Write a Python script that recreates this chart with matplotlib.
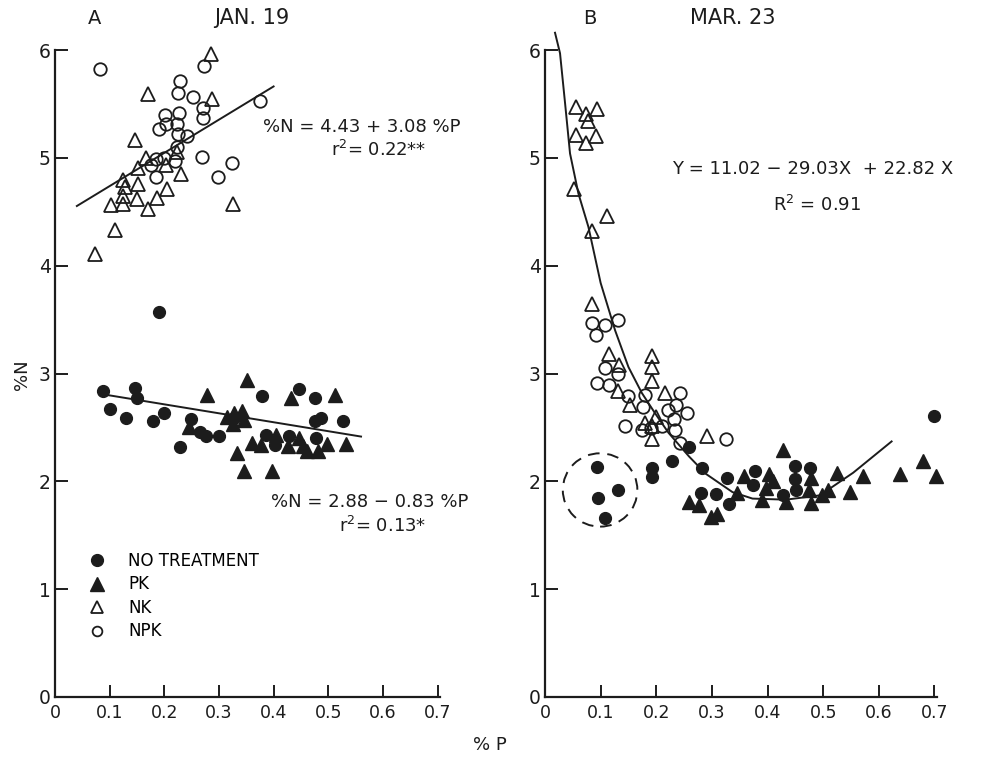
import matplotlib
matplotlib.use("Agg")
import matplotlib.pyplot as plt
from matplotlib.patches import Ellipse
import numpy as np

# ---- data ----
# panel A, Jan. 19
a_none_x = [0.19, 0.088, 0.147, 0.15, 0.10, 0.13, 0.18, 0.20, 0.248, 0.228, 0.266, 0.276, 0.30,
            0.379, 0.446, 0.475, 0.487, 0.475, 0.527, 0.386, 0.403, 0.429, 0.477, 0.328]
a_none_y = [3.57, 2.84, 2.87, 2.77, 2.67, 2.59, 2.56, 2.63, 2.58, 2.32, 2.46, 2.42, 2.42,
            2.79, 2.86, 2.77, 2.59, 2.56, 2.56, 2.43, 2.34, 2.42, 2.40, 2.59]
a_pk_x = [0.279, 0.352, 0.432, 0.512, 0.245, 0.315, 0.328, 0.343, 0.346, 0.325, 0.36, 0.377,
          0.404, 0.426, 0.447, 0.453, 0.461, 0.481, 0.497, 0.532, 0.333, 0.346, 0.397]
a_pk_y = [2.80, 2.94, 2.77, 2.80, 2.50, 2.60, 2.63, 2.65, 2.57, 2.53, 2.36, 2.34,
          2.43, 2.33, 2.40, 2.33, 2.28, 2.28, 2.35, 2.35, 2.26, 2.10, 2.10]
a_nk_x = [0.285, 0.17, 0.288, 0.147, 0.166, 0.152, 0.203, 0.223, 0.23, 0.125, 0.128, 0.152,
          0.125, 0.15, 0.103, 0.125, 0.187, 0.205, 0.171, 0.326, 0.109, 0.074]
a_nk_y = [5.96, 5.59, 5.55, 5.17, 5.00, 4.91, 4.93, 5.05, 4.85, 4.79, 4.73, 4.76,
          4.65, 4.62, 4.56, 4.57, 4.63, 4.71, 4.53, 4.57, 4.33, 4.11]
a_npk_x = [0.082, 0.273, 0.228, 0.225, 0.252, 0.271, 0.271, 0.375, 0.202, 0.226, 0.19, 0.204,
           0.223, 0.225, 0.242, 0.223, 0.184, 0.2, 0.176, 0.219, 0.269, 0.323, 0.299, 0.184]
a_npk_y = [5.82, 5.85, 5.71, 5.60, 5.56, 5.46, 5.37, 5.53, 5.40, 5.42, 5.27, 5.31,
           5.31, 5.22, 5.20, 5.10, 4.99, 5.00, 4.93, 4.97, 5.01, 4.95, 4.82, 4.82]

# regression lines in panel A (from the printed equations)
a_fit_hi = (4.43, 3.08, 0.04, 0.40)    # intercept, slope, x from, x to
a_fit_lo = (2.88, -0.83, 0.085, 0.56)

# panel B, Mar. 23
b_none_x = [0.259, 0.228, 0.193, 0.193, 0.282, 0.328, 0.280, 0.307, 0.331, 0.093, 0.132, 0.095,
            0.108, 0.699, 0.378, 0.373, 0.450, 0.476, 0.450, 0.451, 0.427]
b_none_y = [2.32, 2.19, 2.12, 2.04, 2.12, 2.03, 1.89, 1.88, 1.79, 2.13, 1.92, 1.85,
            1.66, 2.61, 2.10, 1.97, 2.14, 2.12, 2.02, 1.92, 1.87]
b_pk_x = [0.259, 0.277, 0.298, 0.31, 0.427, 0.358, 0.402, 0.397, 0.390, 0.346, 0.433, 0.479,
          0.474, 0.479, 0.497, 0.509, 0.524, 0.549, 0.572, 0.638, 0.679, 0.702, 0.410]
b_pk_y = [1.81, 1.78, 1.67, 1.70, 2.29, 2.05, 2.07, 1.94, 1.83, 1.89, 1.81, 2.03,
          1.92, 1.80, 1.87, 1.92, 2.08, 1.90, 2.05, 2.07, 2.19, 2.05, 2.00]
b_nk_x = [0.055, 0.073, 0.093, 0.078, 0.055, 0.091, 0.073, 0.052, 0.111, 0.084, 0.085, 0.115,
          0.133, 0.131, 0.153, 0.192, 0.192, 0.192, 0.215, 0.199, 0.179, 0.192, 0.192, 0.292]
b_nk_y = [5.47, 5.41, 5.45, 5.34, 5.21, 5.20, 5.14, 4.71, 4.46, 4.32, 3.64, 3.18,
          3.08, 2.84, 2.71, 3.16, 3.06, 2.93, 2.82, 2.60, 2.54, 2.51, 2.39, 2.42]
b_npk_x = [0.084, 0.107, 0.132, 0.091, 0.108, 0.132, 0.093, 0.115, 0.150, 0.180, 0.177, 0.242,
           0.235, 0.221, 0.256, 0.231, 0.143, 0.175, 0.210, 0.233, 0.242, 0.325, 0.191]
b_npk_y = [3.47, 3.45, 3.50, 3.36, 3.05, 3.00, 2.91, 2.89, 2.79, 2.80, 2.69, 2.82,
           2.71, 2.66, 2.63, 2.58, 2.51, 2.48, 2.51, 2.48, 2.36, 2.39, 2.49]

# fitted curve in panel B
b_curve_x = [0.018, 0.027, 0.036, 0.045, 0.060, 0.078, 0.100, 0.126, 0.150, 0.174, 0.198,
             0.222, 0.259, 0.289, 0.337, 0.373, 0.433, 0.494, 0.554, 0.623]
b_curve_y = [6.16, 5.97, 5.51, 5.04, 4.67, 4.36, 3.84, 3.40, 3.06, 2.82, 2.63,
             2.45, 2.23, 2.07, 1.90, 1.84, 1.83, 1.87, 2.08, 2.37]

xticks = [0, 0.1, 0.2, 0.3, 0.4, 0.5, 0.6, 0.7]
xticklabels = ["0", "0.1", "0.2", "0.3", "0.4", "0.5", "0.6", "0.7"]
yticks = [0, 1, 2, 3, 4, 5, 6]

ink = "#1c1c1c"
plt.rcParams['font.family'] = ['DejaVu Sans']

fig = plt.figure(figsize=(9.85, 7.6), dpi=100)
fig.patch.set_facecolor("white")

W, H = 985.0, 760.0
axA = fig.add_axes([55 / W, 63 / H, 388 / W, 647 / H])
axB = fig.add_axes([545 / W, 63 / H, 395 / W, 647 / H])


def style(ax):
    ax.set_xlim(0, 0.71)
    ax.set_ylim(0, 6.0)
    for s in ["top", "right"]:
        ax.spines[s].set_visible(False)
    for s in ["left", "bottom"]:
        ax.spines[s].set_linewidth(1.6)
        ax.spines[s].set_color(ink)
    ax.spines["bottom"].set_bounds(0, 0.705)
    ax.set_xticks(xticks)
    ax.set_xticklabels(xticklabels, fontsize=12.5, color=ink)
    ax.set_yticks(yticks)
    ax.set_yticklabels([str(v) for v in yticks], fontsize=13.5, color=ink)
    ax.tick_params(direction="in", length=9, width=1.4, colors=ink, pad=5)
    ax.tick_params(axis="y", pad=3)


def scatter_groups(ax, none, pk, nk, npk):
    ax.plot(none[0], none[1], "o", ms=8.5, mfc=ink, mec=ink, ls="none", clip_on=False)
    ax.plot(pk[0], pk[1], "^", ms=9.5, mfc=ink, mec=ink, ls="none", clip_on=False)
    ax.plot(nk[0], nk[1], "^", ms=10, mfc="none", mec=ink, mew=1.3, ls="none", clip_on=False)
    ax.plot(npk[0], npk[1], "o", ms=9, mfc="none", mec=ink, mew=1.3, ls="none", clip_on=False)


style(axA)
style(axB)

# panel A
scatter_groups(axA, (a_none_x, a_none_y), (a_pk_x, a_pk_y), (a_nk_x, a_nk_y), (a_npk_x, a_npk_y))
for b0, b1, x0, x1 in [a_fit_hi, a_fit_lo]:
    xs = np.array([x0, x1])
    axA.plot(xs, b0 + b1 * xs, color=ink, lw=1.4)

axA.text(0.38, 5.24, "%N = 4.43 + 3.08 %P", fontsize=13, color=ink)
axA.text(0.505, 5.02, "r$^2$= 0.22**", fontsize=13, color=ink)
axA.text(0.395, 1.76, "%N = 2.88 \u2212 0.83 %P", fontsize=13, color=ink)
axA.text(0.52, 1.53, "r$^2$= 0.13*", fontsize=13, color=ink)

# legend
h1, = axA.plot([], [], "o", ms=8.5, mfc=ink, mec=ink, ls="none")
h2, = axA.plot([], [], "^", ms=9.5, mfc=ink, mec=ink, ls="none")
h3, = axA.plot([], [], "^", ms=8, mfc="none", mec=ink, mew=1.3, ls="none")
h4, = axA.plot([], [], "o", ms=7, mfc="none", mec=ink, mew=1.3, ls="none")
axA.legend([h1, h2, h3, h4], ["NO TREATMENT", "PK", "NK", "NPK"], loc="upper left",
           bbox_to_anchor=(0.06, 0.237), frameon=False, fontsize=12,
           handletextpad=1.3, labelspacing=0.33, borderpad=0, handlelength=1.2)

# panel B
scatter_groups(axB, (b_none_x, b_none_y), (b_pk_x, b_pk_y), (b_nk_x, b_nk_y), (b_npk_x, b_npk_y))
axB.plot(b_curve_x, b_curve_y, color=ink, lw=1.4, clip_on=False)
axB.add_patch(Ellipse((0.099, 1.92), 0.134, 0.68, fill=False, ec=ink, lw=1.4,
                      ls=(0, (6, 4))))
axB.text(0.228, 4.85, "Y = 11.02 \u2212 29.03X  + 22.82 X", fontsize=13, color=ink)
axB.text(0.41, 4.51, "R$^2$ = 0.91", fontsize=13, color=ink)

# titles and axis names
fig.text(95 / W, 1 - 18 / H, "A", fontsize=14, color=ink, va="center", ha="center")
fig.text(252 / W, 1 - 18 / H, "JAN. 19", fontsize=15, color=ink, va="center", ha="center")
fig.text(590 / W, 1 - 18 / H, "B", fontsize=14, color=ink, va="center", ha="center")
fig.text(733 / W, 1 - 18 / H, "MAR. 23", fontsize=15, color=ink, va="center", ha="center")
fig.text(22 / W, 1 - 375 / H, "%N", fontsize=13, color=ink, rotation=90, va="center", ha="center")
fig.text(490 / W, 1 - 745 / H, "% P", fontsize=13, color=ink, va="center", ha="center")

fig.savefig("out.png", dpi=100, facecolor="white")
